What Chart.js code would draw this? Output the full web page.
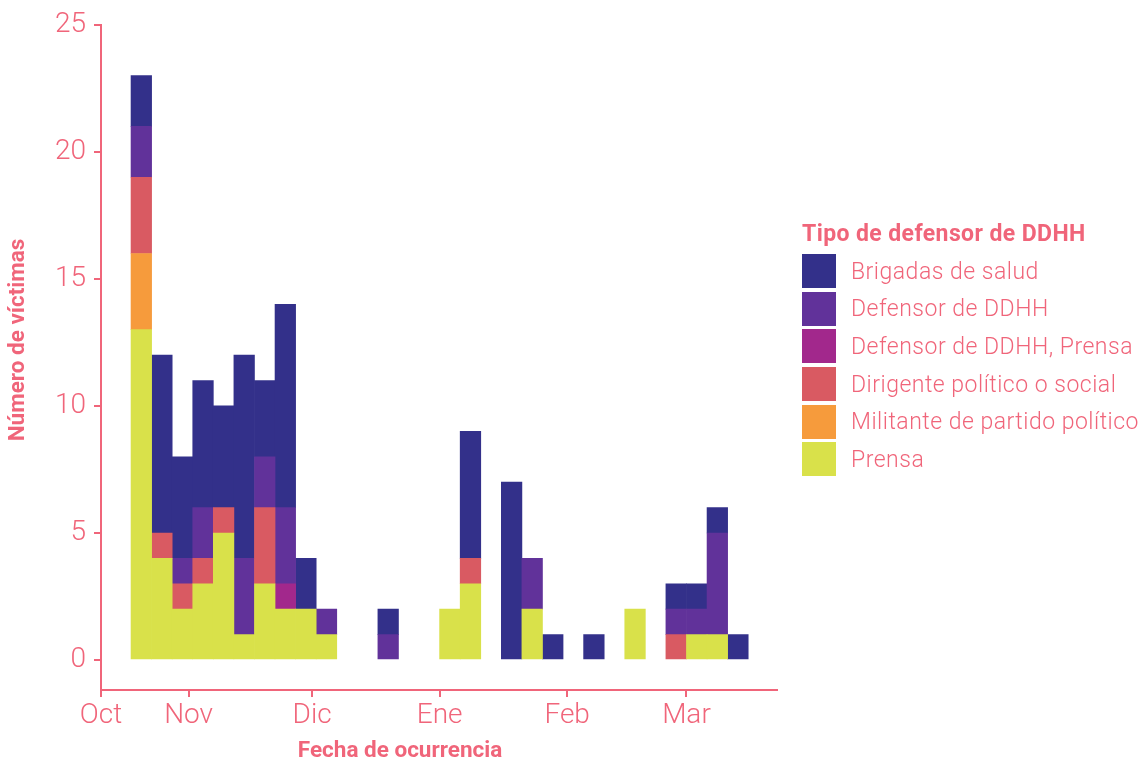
<!DOCTYPE html>
<html>
<head>
<meta charset="utf-8">
<script src="https://cdn.jsdelivr.net/npm/chart.js@4.4.0/dist/chart.umd.min.js"></script>
<style>
  body { margin: 0; background: #fff; }
  #wrap { position: relative; width: 1142px; height: 762px; }
  #legend { position: absolute; left: 802px; top: 221px; font-family: Roboto, sans-serif; color: #f0657a; }
  #legend .title { font-weight: 700; font-size: 23px; letter-spacing: 0.4px; line-height: 26px; margin-bottom: 7px; }
  #legend .row { display: flex; align-items: center; height: 34px; margin-bottom: 3.7px; }
  #legend .box { width: 34px; height: 34px; margin-right: 15px; }
  #legend .lbl { font-weight: 300; font-size: 23px; letter-spacing: 0.5px; }
</style>
</head>
<body>
<div id="wrap">
  <canvas id="chart" width="1142" height="762"></canvas>
  <div id="legend"></div>
</div>
<script>
// bin centres, days counted from 1 Oct 2019 (5-day bins starting 18 Oct)
const binCenters = [19.5, 24.5, 29.5, 34.5, 39.5, 44.5, 49.5, 54.5, 59.5, 64.5,
                    69.5, 74.5, 79.5, 84.5, 89.5, 94.5, 99.5, 104.5, 109.5, 114.5,
                    119.5, 124.5, 129.5, 134.5, 139.5, 144.5, 149.5, 154.5, 159.5, 164.5];

const prensa      = [13, 4, 2, 3, 5, 1, 3, 2, 2, 1,  0, 0, 0, 0, 0,  2, 3, 0, 0, 2,  0, 0, 0, 0, 2,  0, 0, 1, 1, 0];
const militante   = [ 3, 0, 0, 0, 0, 0, 0, 0, 0, 0,  0, 0, 0, 0, 0,  0, 0, 0, 0, 0,  0, 0, 0, 0, 0,  0, 0, 0, 0, 0];
const dirigente   = [ 3, 1, 1, 1, 1, 0, 3, 0, 0, 0,  0, 0, 0, 0, 0,  0, 1, 0, 0, 0,  0, 0, 0, 0, 0,  0, 1, 0, 0, 0];
const defPrensa   = [ 0, 0, 0, 0, 0, 0, 0, 1, 0, 0,  0, 0, 0, 0, 0,  0, 0, 0, 0, 0,  0, 0, 0, 0, 0,  0, 0, 0, 0, 0];
const defensor    = [ 2, 0, 1, 2, 0, 3, 2, 3, 0, 1,  0, 0, 1, 0, 0,  0, 0, 0, 0, 2,  0, 0, 0, 0, 0,  0, 1, 1, 4, 0];
const brigadas    = [ 2, 7, 4, 5, 4, 8, 3, 8, 2, 0,  0, 0, 1, 0, 0,  0, 5, 0, 7, 0,  1, 0, 1, 0, 0,  0, 1, 1, 1, 1];

const monthTicks  = [9.7, 31, 61, 92, 123, 152];
const monthLabels = ['Oct', 'Nov', 'Dic', 'Ene', 'Feb', 'Mar'];
const yTicks      = [0, 5, 10, 15, 20, 25];

const pink = '#f0657a';

const series = [
  { label: 'Prensa', data: prensa, color: '#d9e14a' },
  { label: 'Militante de partido político', data: militante, color: '#f69b3c' },
  { label: 'Dirigente político o social', data: dirigente, color: '#d95a62' },
  { label: 'Defensor de DDHH, Prensa', data: defPrensa, color: '#a2288c' },
  { label: 'Defensor de DDHH', data: defensor, color: '#61329a' },
  { label: 'Brigadas de salud', data: brigadas, color: '#33308a' }
];

const axisTitles = {
  id: 'axisTitles',
  afterDraw(chart) {
    const ctx = chart.ctx;
    ctx.save();
    ctx.fillStyle = pink;
    ctx.font = 'bold 22.5px Roboto, sans-serif';
    ctx.textAlign = 'center';
    ctx.textBaseline = 'middle';
    ctx.fillText('Fecha de ocurrencia', 400, 751);
    ctx.translate(18, 340);
    ctx.rotate(-Math.PI / 2);
    ctx.fillText('Número de víctimas', 0, 0);
    ctx.restore();
  }
};

const chart = new Chart(document.getElementById('chart'), {
  type: 'bar',
  data: {
    datasets: series.map(s => ({
      label: s.label,
      // empty bins as null so nothing is drawn on the baseline
      data: s.data.map((v, i) => ({ x: binCenters[i], y: v === 0 ? null : v })),
      backgroundColor: s.color,
      borderWidth: 0,
      barPercentage: 1,
      categoryPercentage: 1
    }))
  },
  options: {
    responsive: false,
    animation: false,
    layout: { padding: { top: 23.5, right: 365, left: 0, bottom: 0 } },
    plugins: {
      legend: { display: false },
      tooltip: { enabled: false }
    },
    scales: {
      x: {
        type: 'linear',
        stacked: true,
        offset: false,
        min: 9.7,
        max: 174,
        afterBuildTicks: s => { s.ticks = monthTicks.map(v => ({ value: v })); },
        afterFit: s => { s.height = 72; },
        ticks: {
          color: pink,
          padding: 2,
          font: { family: 'Roboto', size: 28, weight: 300 },
          callback: v => monthLabels[monthTicks.indexOf(v)]
        },
        grid: { drawOnChartArea: false, offset: false, color: pink, lineWidth: 2, tickLength: 7 },
        border: { color: pink, width: 2 }
      },
      y: {
        stacked: true,
        min: -1.18,
        max: 25,
        afterBuildTicks: s => { s.ticks = yTicks.map(v => ({ value: v })); },
        afterFit: s => { s.width = 101; },
        ticks: {
          color: pink,
          padding: 8,
          font: { family: 'Roboto', size: 28, weight: 300 }
        },
        grid: { drawOnChartArea: false, color: pink, lineWidth: 2, tickLength: 7 },
        border: { color: pink, width: 2 }
      }
    }
  },
  plugins: [axisTitles]
});

// legend, top entry = top of the stack
const legend = document.getElementById('legend');
legend.innerHTML = '<div class="title">Tipo de defensor de DDHH</div>' +
  chart.data.datasets.slice().reverse().map(d =>
    '<div class="row"><div class="box" style="background:' + d.backgroundColor + '"></div>' +
    '<div class="lbl">' + d.label + '</div></div>').join('');
</script>
</body>
</html>
